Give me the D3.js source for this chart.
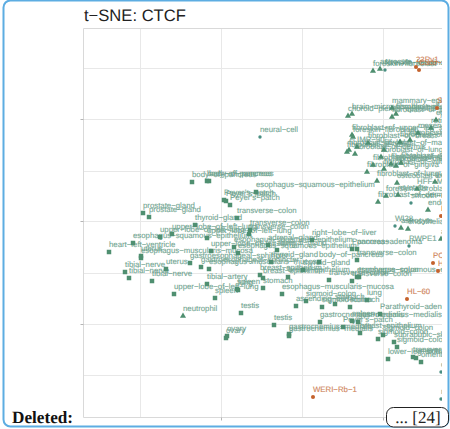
<!DOCTYPE html>
<html><head><meta charset="utf-8">
<script src="https://cdn.jsdelivr.net/npm/d3@7"></script>
<style>html,body{margin:0;padding:0;background:#fff;overflow:hidden}svg{display:block}text{text-rendering:geometricPrecision}</style>
</head><body><svg id="c" width="450" height="429"></svg>
<script>
const chartTitle = "t−SNE: CTCF";
const footerLabel = "Deleted:";
const footerBadge = "... [24]";
const xTicks = [-81, 0, 81, 162];
const xMajorTicks = [0, 162];
const yTicks = [-154, -103, -52, 0, 50, 102, 153];
const yMajorTicks = [-103, 0, 102];

const tissueLabels = ["prostate−gland","prostate−gland","thyroid−gland","upper−lobe−of−left−lung","esophagus−squamous−epithelium","heart−left−ventricle","uterus","esophagus−muscularis−mucosa","uterus","gastroesophageal−sphincter","gastroesophageal−sphincter","esophagus−muscularis−mucosa","upper−lobe−of−left−lung","tibial−nerve","tibial−nerve","tibial−nerve","upper−lobe−of−left−lung","tibial−artery","spleen","testis","testis","ovary","ovary","gastrocnemius−medialis","gastrocnemius−medialis","gastrocnemius−medialis","spleen","Peyer’s−patch","breast−epithelium","gastrocnemius−medialis","Parathyroid−adenoma","sigmoid−colon","sigmoid−colon","suprapubic−skin","sigmoid−colon","lower−leg−skin","transverse−colon","omental−fat−pad","omental−fat−pad","esophagus−muscularis−mucosa","ascending−aorta","sigmoid−colon","sigmoid−colon","stomach","stomach","lung","stomach","lung","spleen","breast−epithelium","breast−epithelium","transverse−colon","transverse−colon","esophagus−squamous−epithelium","transverse−colon","breast−epithelium","adrenal−gland","adrenal−gland","transverse−colon","Pancreas−adenoma","pancreas","body−of−pancreas","thyroid−gland","thyroid−gland","right−lobe−of−liver","esophagus−squamous−epithelium","esophagus−squamous−epithelium","upper−lobe−of−left−lung","upper−lobe−of−left−lung","body−of−pancreas","body−of−pancreas","body−of−pancreas","Peyer’s−patch","Peyer’s−patch","Peyer’s−patch","transverse−colon","transverse−colon","transverse−colon","esophagus−squamous−epithelium"];
const tissueX = [-78,-72,-26,-49,-88,-112,-80,-80,-55,-31,-20,-12,-10,-96,-92,-69,-47,-14,-6,20,53,6,5,68,68,99,131,122,139,137,159,157,162,173,176,167,192,195,200,61,75,85,101,114,129,146,42,17,16,39,42,108,131,136,138,67,47,56,136,131,136,98,82,50,91,13,17,-14,-61,-29,-14,-12,5,9,3,16,29,28,35];
const tissueY = [8,4,-4,-13,-22,-31,-35,-37,-48,-42,-46,-48,-30,-51,-57,-60,-73,-63,-77,-92,-104,-115,-117,-113,-115,-101,-100,-106,-112,-101,-93,-118,-114,-121,-126,-138,-136,-137,-141,-73,-85,-80,-86,-83,-86,-79,-67,-69,-68,-54,-57,-59,-60,-56,-56,-56,-24,-29,-39,-28,-28,-41,-49,-41,-19,-26,-32,-17,-16,39,40,40,20,16,21,3,-9,-13,29];

const primaryLabels = ["foreskin−fibroblast","astrocyte","choroid−plexus−epithelial−cell","brain−microvascular−endothelial","fibroblast−of−pulmonary−artery","fibroblast−of−the−aortic−adventitia","mammary−epithelial−cell","fibroblast−of−upper−leg−skin","foreskin−fibroblast","fibroblast−of−arm","fibroblast−of−dermis","IMR−90","fibroblast−of−lung","fibroblast−of−breast","fibroblast−of−mammary−gland","fibroblast−of−breast","fibroblast−of−pedal−digit","mesenchymal−stem−cell","retinal−pigment−cell","epithelial−cell−of−prostate","fibroblast−of−lung","fibroblast−of−skin−of−back","fibroblast−of−gingiva","fibroblast−of−gingiva","fibroblast−of−villous−mesenchyme","fibroblast−of−gingiva","fibroblast−of−peridontium","fibroblast−of−lung","osteoblast−cell","foreskin−fibroblast","fibroblast−of−dermis","myotube","HFF−Myc","skeletal−muscle−cell","endothelial−cell","astrocyte","endothelial−cell","neutrophil","astrocyte−of−spinal−cord"];
const primaryX = [152,159,127,131,171,175,171,131,132,126,134,136,128,147,163,179,189,197,210,215,160,152,170,175,163,146,180,156,176,165,157,177,196,214,207,180,187,-38,220];
const primaryY = [150,152,105,107,104,107,113,86,84,69,67,74,71,78,71,79,81,88,93,101,64,56,57,55,52,49,58,40,38,25,19,26,32,39,11,-7,-8,-95,-18];

const greenLineLabels = ["neural−cell","foreskin−keratinocyte","WI38","RWPE1","smooth−muscle−cell","cardiac−muscle−cell","mesendoderm"];
const greenLineX = [39,164,174,188,190,220,220];
const greenLineY = [84,151,-5,-25,18,-151,-178];

const cancerLabels = ["22Rv1","Caco−2","SK−N−SH","WERI−Rb−1","HL−60","PC−3","HEK293","HepG2"];
const cancerX = [195,198,216,92,186,212,217,220];
const cancerY = [154,151,113,-176,-78,-42,-50,5];

const plot = {l:83.5, r:442, t:28.5, b:417.5};
const svg = d3.select("#c");
const x = d3.scaleLinear().domain([-138, 221]).range([83, 442]);
const y = d3.scaleLinear().domain([-197, 193]).range([418, 28]);

svg.append("clipPath").attr("id","pc").append("rect")
  .attr("x",plot.l).attr("y",plot.t).attr("width",plot.r-plot.l).attr("height",plot.b-plot.t);

// grid
const gx = svg.append("g").attr("transform",`translate(0,${plot.b})`)
  .call(d3.axisBottom(x).tickValues(xTicks).tickSize(-(plot.b-plot.t)).tickFormat(""));
const gy = svg.append("g").attr("transform",`translate(${plot.l},0)`)
  .call(d3.axisLeft(y).tickValues(yTicks).tickSize(-(plot.r-plot.l)).tickFormat(""));
[gx,gy].forEach(g=>{g.select(".domain").remove();g.selectAll("line").attr("stroke","#e8e8e8").attr("stroke-width",1);});

// panel border
const border = d3.path();
border.moveTo(plot.r,plot.t);border.lineTo(plot.l,plot.t);border.lineTo(plot.l,plot.b);border.lineTo(plot.r,plot.b);
svg.append("path").attr("d",border.toString()).attr("fill","none").attr("stroke","#d9d9d9").attr("stroke-width",1);

// major ticks
const mx = svg.append("g").attr("transform",`translate(0,${plot.b})`)
  .call(d3.axisBottom(x).tickValues(xMajorTicks).tickSize(3).tickFormat(""));
const my = svg.append("g").attr("transform",`translate(${plot.l},0)`)
  .call(d3.axisLeft(y).tickValues(yMajorTicks).tickSize(3).tickFormat(""));
[mx,my].forEach(g=>{g.select(".domain").remove();g.selectAll("line").attr("stroke","#b5b5b5");});

const layer = svg.append("g").attr("clip-path","url(#pc)");
const green = "#4f8f70", greenText = "#4f8f78", orange = "#c4622d", orangeText = "#c4652f";

function series(labels, xs, ys, symbol, size, color, textColor){
  const pts = labels.map((t,i)=>({t, x:x(xs[i]), y:y(ys[i])}));
  const gen = d3.symbol().type(symbol).size(size);
  layer.append("g").selectAll("path").data(pts).join("path")
    .attr("d",gen).attr("transform",d=>`translate(${d.x},${d.y})`).attr("fill",color);
  layer.append("g").attr("opacity",0.8).selectAll("text").data(pts).join("text")
    .attr("x",d=>d.x).attr("y",d=>d.y-5).text(d=>d.t)
    .attr("font-family","'Liberation Sans',Arial,sans-serif").attr("font-size",7.8)
    .attr("fill",textColor).attr("stroke",textColor).attr("stroke-width",0.12);
}
series(tissueLabels,tissueX,tissueY,d3.symbolSquare,20,green,greenText);
series(primaryLabels,primaryX,primaryY,d3.symbolTriangle,16,green,greenText);
series(greenLineLabels,greenLineX,greenLineY,d3.symbolCircle,9,"#4a8f82",greenText);
series(cancerLabels,cancerX,cancerY,d3.symbolCircle,13,orange,orangeText);

// title
svg.append("text").attr("x",84).attr("y",21).text(chartTitle)
  .attr("font-family","'Liberation Sans',Arial,sans-serif").attr("font-size",16.6).attr("fill","#222");

// frame
svg.append("rect").attr("x",3.5).attr("y",0.5).attr("width",445).attr("height",426)
  .attr("rx",7).attr("fill","none").attr("stroke","#5dade2").attr("stroke-width",2);

// footer
svg.append("text").attr("x",12).attr("y",423).text(footerLabel)
  .attr("font-family","'Liberation Serif',serif").attr("font-weight","bold").attr("font-size",17.2).attr("fill","#111");
svg.append("rect").attr("x",386.5).attr("y",407.5).attr("width",62).attr("height",19.5).attr("rx",7)
  .attr("fill","#fff").attr("stroke","#222").attr("stroke-width",1);
svg.append("text").attr("x",418).attr("y",423).attr("text-anchor","middle").text(footerBadge)
  .attr("font-family","'Liberation Serif',serif").attr("font-size",17).attr("fill","#222");
</script></body></html>
